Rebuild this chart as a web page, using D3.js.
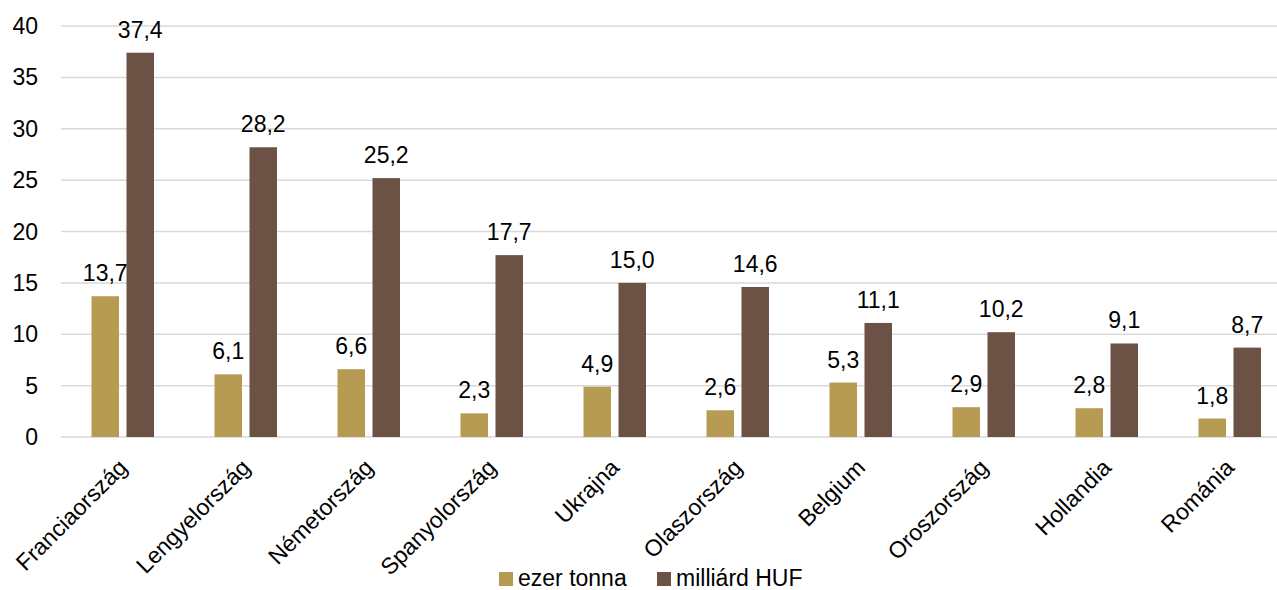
<html>
<head>
    <style>
        body{ margin:0; background:#fff; }
        svg{ display:block; font-family:"Liberation Sans", Arial, sans-serif; }
    </style>
</head>
<body>
<script src="https://d3js.org/d3.v7.min.js"></script>
<svg></svg>
<script>
    var countries = ["Franciaország","Lengyelország","Németország","Spanyolország","Ukrajna",
                     "Olaszország","Belgium","Oroszország","Hollandia","Románia"];
    var tonnes = [13.7, 6.1, 6.6, 2.3, 4.9, 2.6, 5.3, 2.9, 2.8, 1.8];
    var hufBn = [37.4, 28.2, 25.2, 17.7, 15.0, 14.6, 11.1, 10.2, 9.1, 8.7];
    var seriesNames = ["ezer tonna", "milliárd HUF"];
    var yTicks = [0, 5, 10, 15, 20, 25, 30, 35, 40];

    var colors = ["#B89B52", "#6B5245"];
    let width = 1277, height = 590;
    var fs = "23px";

    let svg = d3.select("svg").attr("width", width).attr("height", height);

    var x = d3.scaleBand().domain(countries).range([61, 1291]);
    var y = d3.scaleLinear().domain([0, 40]).range([437, 26]);
    var inner = d3.scaleBand().domain([0, 1]).range([30.5, 93]).paddingInner(0.214);

    // gridlines
    svg.append("g").selectAll("line").data(yTicks).enter().append("line")
        .attr("x1", 61).attr("x2", 1291)
        .attr("y1", d => y(d)).attr("y2", d => y(d))
        .style("stroke", "#d9d9d9").style("stroke-width", 1.5);

    // y axis labels
    svg.append("g").selectAll("text").data(yTicks).enter().append("text")
        .attr("x", 38).attr("y", d => y(d) + 8)
        .attr("text-anchor", "end").style("font-size", fs).style("fill", "#000")
        .text(d => d);

    var rows = countries.map((c, i) => ({ c: c, v: [tonnes[i], hufBn[i]] }));

    var groups = svg.append("g").selectAll("g").data(rows).enter().append("g")
        .attr("transform", d => "translate(" + x(d.c) + ",0)");

    groups.selectAll("rect").data(d => d.v.map((v, k) => ({ v: v, k: k }))).enter().append("rect")
        .attr("x", d => inner(d.k))
        .attr("width", inner.bandwidth())
        .attr("y", d => y(d.v))
        .attr("height", d => y(0) - y(d.v))
        .style("fill", d => colors[d.k]);

    groups.selectAll("text.val").data(d => d.v.map((v, k) => ({ v: v, k: k }))).enter().append("text")
        .attr("class", "val")
        .attr("x", d => inner(d.k) + inner.bandwidth() / 2)
        .attr("y", d => y(d.v) - 15)
        .attr("text-anchor", "middle").style("font-size", fs)
        .text(d => d.v.toFixed(1).replace(".", ","));

    // category labels
    svg.append("g").selectAll("text").data(countries).enter().append("text")
        .attr("transform", d => "translate(" + (x(d) + x.bandwidth() / 2 + 6) + ",469) rotate(-45)")
        .attr("text-anchor", "end").style("font-size", fs)
        .text(d => d);

    // legend
    var legend = svg.append("g");
    var lx = [499, 657];
    seriesNames.forEach(function(n, i){
        legend.append("rect").attr("x", lx[i]).attr("y", 572).attr("width", 14).attr("height", 14)
            .style("fill", colors[i]);
        legend.append("text").attr("x", lx[i] + 19).attr("y", 586)
            .style("font-size", fs).text(n);
    });
</script>
</body>
</html>
